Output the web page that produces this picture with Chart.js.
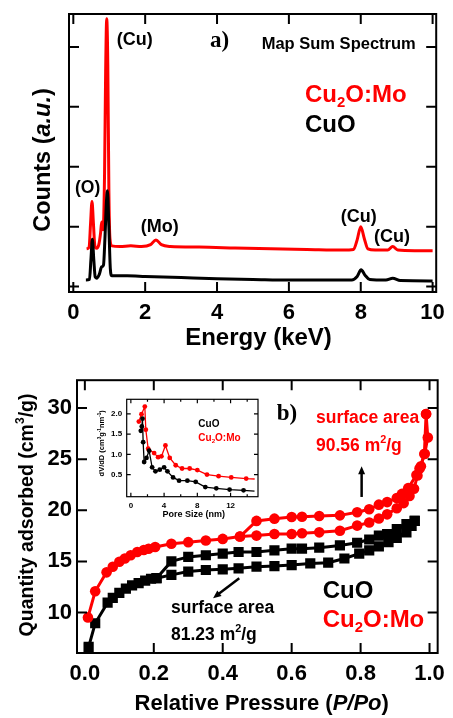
<!DOCTYPE html>
<html><head><meta charset="utf-8">
<script src="https://cdn.jsdelivr.net/npm/chart.js@4.4.1/dist/chart.umd.min.js"></script>
<style>
html,body{margin:0;padding:0;background:#fff;width:453px;height:718px;overflow:hidden;}
canvas{position:absolute;}
#ca{left:0;top:0}
#cb{left:0;top:362px}
#cc{left:92px;top:390px}
</style></head><body>
<canvas id="ca" width="453" height="362"></canvas>
<canvas id="cb" width="453" height="356"></canvas>
<canvas id="cc" width="170" height="132"></canvas>
<script>
// ---------- Panel a: EDS map sum spectrum ----------
const EDS_XTICKS = [0, 2, 4, 6, 8, 10];
const EDS_YTICKS = [0, 1, 2, 3, 4];
const EDS_CUO_KEV = [0.35,0.45,0.49,0.53,0.57,0.61,0.65,0.72,0.79,0.84,0.88,0.92,0.95,0.99,1.03,1.07,1.5,2.0,3.0,4.0,5.0,6.0,7.0,7.75,7.9,8.01,8.12,8.25,8.7,8.89,9.1,10.0];
const EDS_CUO_COUNTS = [0.11,0.12,0.45,0.79,0.45,0.16,0.14,0.20,0.33,0.36,0.80,1.40,1.60,1.00,0.30,0.18,0.18,0.17,0.15,0.13,0.12,0.11,0.11,0.11,0.17,0.28,0.19,0.12,0.11,0.14,0.10,0.095];
const EDS_CU2O_KEV = [0.37,0.44,0.48,0.52,0.56,0.60,0.65,0.71,0.76,0.79,0.83,0.87,0.90,0.93,0.96,0.99,1.02,1.07,1.3,1.6,1.9,2.15,2.30,2.45,2.7,3.5,4.5,5.5,6.5,7.5,7.8,7.9,8.0,8.1,8.2,8.4,8.75,8.89,9.03,9.5,10.0];
const EDS_CU2O_COUNTS = [0.63,0.66,1.05,1.42,1.05,0.68,0.64,0.70,0.90,1.08,0.95,1.9,3.6,4.47,3.7,1.6,0.80,0.68,0.67,0.68,0.67,0.70,0.78,0.70,0.67,0.66,0.645,0.63,0.62,0.61,0.62,0.78,1.00,0.80,0.63,0.61,0.61,0.67,0.61,0.60,0.60];

// ---------- Panel b: N2 isotherms ----------
const BET_XTICKS = [0, 0.2, 0.4, 0.6, 0.8, 1.0];
const BET_YTICKS = [10, 15, 20, 25, 30];
const CUO_ADS_P = [0.011,0.030,0.066,0.081,0.100,0.119,0.137,0.156,0.175,0.192,0.208,0.251,0.300,0.351,0.400,0.446,0.498,0.550,0.600,0.654,0.706,0.753,0.796,0.825,0.853,0.881,0.905,0.933,0.948,0.957];
const CUO_ADS_Q = [6.64,8.95,10.96,11.44,11.92,12.34,12.66,12.88,13.11,13.30,13.36,13.68,14.00,14.16,14.22,14.32,14.48,14.54,14.64,14.80,14.87,15.28,15.76,16.08,16.46,16.88,17.30,17.84,18.48,18.96];
const CUO_DES_P = [0.957,0.933,0.905,0.877,0.853,0.825,0.790,0.740,0.680,0.630,0.600,0.550,0.498,0.446,0.400,0.351,0.300,0.251,0.208];
const CUO_DES_Q = [18.96,18.64,18.16,17.68,17.52,17.14,16.82,16.56,16.34,16.24,16.24,16.08,15.92,15.92,15.76,15.60,15.44,15.00,13.36];
const CU2O_ADS_P = [0.009,0.030,0.063,0.081,0.100,0.116,0.133,0.152,0.171,0.185,0.204,0.251,0.300,0.351,0.400,0.450,0.498,0.550,0.600,0.630,0.680,0.740,0.790,0.825,0.853,0.877,0.905,0.925,0.942,0.955,0.965,0.975,0.985,0.990];
const CU2O_ADS_Q = [9.52,12.08,13.93,14.48,14.96,15.28,15.60,15.92,16.11,16.24,16.40,16.72,16.88,17.04,17.20,17.43,17.52,17.68,17.68,17.75,17.84,18.00,18.50,18.80,19.20,19.60,20.20,20.70,21.40,22.10,23.40,24.30,25.50,29.42];
const CU2O_DES_P = [0.990,0.995,0.986,0.971,0.962,0.938,0.920,0.905,0.877,0.853,0.825,0.790,0.740,0.680,0.630,0.600,0.550,0.498,0.450];
const CU2O_DES_Q = [29.42,27.12,25.52,24.08,23.44,22.16,21.60,21.20,20.80,20.55,20.10,19.80,19.50,19.44,19.37,19.34,19.18,18.96,17.43];

// ---------- Inset: pore size distribution ----------
const PORE_XTICKS = [0, 4, 8, 12];
const PORE_XMINOR = [2, 6, 10, 14];
const PORE_YTICKS = [0.5, 1.0, 1.5, 2.0];
const PORE_CUO_NM = [1.20,1.32,1.40,1.48,1.60,1.88,2.20,2.56,2.96,3.48,4.00,4.40,5.08,5.80,6.80,7.80,8.96,10.28,11.88,13.56,14.88];
const PORE_CUO_DV = [1.58,1.69,1.88,1.30,0.81,0.91,1.09,0.68,0.58,0.62,0.68,0.58,0.43,0.35,0.35,0.32,0.19,0.16,0.13,0.11,0.09];
const PORE_CU2O_NM = [0.96,1.28,1.68,1.80,2.08,2.80,3.28,3.68,4.16,4.68,5.40,6.16,7.08,8.00,9.16,10.56,12.08,13.88,14.90];
const PORE_CU2O_DV = [1.81,1.99,2.18,1.61,1.14,1.03,0.93,0.95,1.22,0.91,0.73,0.65,0.65,0.61,0.50,0.46,0.43,0.40,0.39];

// ---------- helpers ----------
const RED = '#ff0000', BLACK = '#000000';
const SANS = '"Liberation Sans", Arial, Helvetica, sans-serif';
const SERIF = '"Liberation Serif", "Times New Roman", serif';
Chart.defaults.font.family = SANS;
Chart.defaults.color = '#000';

const pts = (xs, ys) => xs.map((x, i) => ({x, y: ys[i]}));
const T = (t, o = {}) => Object.assign({t}, o);
const SUB = t => ({t, s: 0.62, dy: 0.24});
const SUP = t => ({t, s: 0.62, dy: -0.45});

function runFont(r, size, fam) {
  return `${r.i ? 'italic ' : ''}bold ${(size * (r.s || 1)).toFixed(2)}px ${fam}`;
}
function drawRuns(ctx, it) {
  const size = it.size, fam = it.family || SANS;
  ctx.save();
  ctx.translate(it.x, it.y);
  if (it.rot) ctx.rotate(it.rot);
  ctx.textBaseline = 'alphabetic';
  ctx.textAlign = 'left';
  ctx.fillStyle = it.color || BLACK;
  let w = 0;
  for (const r of it.runs) { ctx.font = runFont(r, size, fam); w += ctx.measureText(r.t).width; }
  let cx = it.align === 'center' ? -w / 2 : 0;
  for (const r of it.runs) {
    ctx.font = runFont(r, size, fam);
    ctx.fillText(r.t, cx, (r.dy || 0) * size);
    cx += ctx.measureText(r.t).width;
  }
  ctx.restore();
}
function textPlugin(items) {
  return { id: 'texts', afterDraw(chart) { items.forEach(it => drawRuns(chart.ctx, it)); } };
}
function framePlugin(o) {
  return {
    id: 'frame',
    afterDatasetsDraw(chart) {
      const {ctx, chartArea: a, scales: {x, y}} = chart;
      ctx.save();
      ctx.strokeStyle = BLACK;
      ctx.lineWidth = o.width;
      ctx.beginPath();
      const xt = (v, len) => { const p = x.getPixelForValue(v); ctx.moveTo(p, a.bottom); ctx.lineTo(p, a.bottom - len); ctx.moveTo(p, a.top); ctx.lineTo(p, a.top + len); };
      const yt = (v, len) => { const p = y.getPixelForValue(v); ctx.moveTo(a.left, p); ctx.lineTo(a.left + len, p); ctx.moveTo(a.right, p); ctx.lineTo(a.right - len, p); };
      x.ticks.forEach(t => xt(t.value, o.len));
      y.ticks.forEach(t => yt(t.value, o.len));
      (o.xMinor || []).forEach(v => xt(v, o.minorLen));
      ctx.stroke();
      ctx.strokeRect(a.left, a.top, a.right - a.left, a.bottom - a.top);
      ctx.restore();
    }
  };
}
function arrowPlugin(list) {
  return {
    id: 'arrows',
    afterDraw(chart) {
      const {ctx, scales: {x, y}} = chart;
      list.forEach(ar => {
        const x1 = x.getPixelForValue(ar.from[0]), y1 = y.getPixelForValue(ar.from[1]);
        const x2 = x.getPixelForValue(ar.to[0]), y2 = y.getPixelForValue(ar.to[1]);
        const ang = Math.atan2(y2 - y1, x2 - x1);
        const hl = 8, hw = 3.5;
        ctx.save();
        ctx.strokeStyle = BLACK; ctx.fillStyle = BLACK; ctx.lineWidth = 2.5;
        ctx.beginPath();
        ctx.moveTo(x1, y1);
        ctx.lineTo(x2 - Math.cos(ang) * hl * 0.8, y2 - Math.sin(ang) * hl * 0.8);
        ctx.stroke();
        ctx.beginPath();
        ctx.moveTo(x2, y2);
        ctx.lineTo(x2 - Math.cos(ang) * hl - Math.sin(ang) * hw, y2 - Math.sin(ang) * hl + Math.cos(ang) * hw);
        ctx.lineTo(x2 - Math.cos(ang) * hl + Math.sin(ang) * hw, y2 - Math.sin(ang) * hl - Math.cos(ang) * hw);
        ctx.closePath();
        ctx.fill();
        ctx.restore();
      });
    }
  };
}
const setTicks = arr => s => { s.ticks = arr.map(v => ({value: v})); };
const baseOpts = () => ({
  responsive: false, animation: false, events: [],
  plugins: {legend: {display: false}, tooltip: {enabled: false}}
});

// ---------- Chart a ----------
const optsA = baseOpts();
optsA.layout = {padding: {left: 0, right: 16, top: 14, bottom: 0}};
optsA.scales = {
  x: {type: 'linear', min: -0.12, max: 10.1, afterBuildTicks: setTicks(EDS_XTICKS), afterFit: s => { s.height = 70; },
      grid: {display: false, drawTicks: false}, border: {display: false},
      ticks: {padding: 8, font: {size: 22, weight: 'bold'}, color: BLACK, autoSkip: false, maxRotation: 0, callback: v => String(v)}},
  y: {type: 'linear', min: -0.09, max: 4.55, afterBuildTicks: setTicks(EDS_YTICKS), afterFit: s => { s.width = 69; },
      grid: {display: false, drawTicks: false}, border: {display: false}, ticks: {display: false}}
};
new Chart(document.getElementById('ca'), {
  type: 'line',
  data: {datasets: [
    {label: 'CuO', data: pts(EDS_CUO_KEV, EDS_CUO_COUNTS), borderColor: BLACK, borderWidth: 3, pointRadius: 0, cubicInterpolationMode: 'monotone', fill: false},
    {label: 'Cu2O:Mo', data: pts(EDS_CU2O_KEV, EDS_CU2O_COUNTS), borderColor: RED, borderWidth: 3, pointRadius: 0, cubicInterpolationMode: 'monotone', fill: false}
  ]},
  options: optsA,
  plugins: [framePlugin({width: 2, len: 10}), textPlugin([
    {runs: [T('(Cu)')], x: 116.7, y: 45, size: 18},
    {runs: [T('a)')], x: 210, y: 47, size: 23, family: SERIF},
    {runs: [T('Map Sum Spectrum')], x: 261.7, y: 49, size: 16.5},
    {runs: [T('Cu'), SUB('2'), T('O:Mo')], x: 305, y: 101.7, size: 24, color: RED},
    {runs: [T('CuO')], x: 305, y: 131.7, size: 24},
    {runs: [T('(O)')], x: 75, y: 193.3, size: 17.5},
    {runs: [T('(Mo)')], x: 140.7, y: 231.7, size: 18},
    {runs: [T('(Cu)')], x: 340.7, y: 221.7, size: 18},
    {runs: [T('(Cu)')], x: 374, y: 241.7, size: 18},
    {runs: [T('Counts ('), T('a.u.', {i: true}), T(')')], x: 49.5, y: 160, size: 23.5, align: 'center', rot: -Math.PI / 2},
    {runs: [T('Energy (keV)')], x: 258.5, y: 345, size: 24, align: 'center'}
  ])]
});

// ---------- Chart b ----------
const optsB = baseOpts();
optsB.layout = {padding: {left: 0, right: 8, top: 13, bottom: 0}};
optsB.scales = {
  x: {type: 'linear', min: -0.0228, max: 1.0236, afterBuildTicks: setTicks(BET_XTICKS), afterFit: s => { s.height = 65; },
      grid: {display: false, drawTicks: false}, border: {display: false},
      ticks: {padding: 8, font: {size: 22, weight: 'bold'}, color: BLACK, autoSkip: false, maxRotation: 0, callback: v => Number(v).toFixed(1)}},
  y: {type: 'linear', min: 6.04, max: 32.72, afterBuildTicks: setTicks(BET_YTICKS), afterFit: s => { s.width = 77; },
      grid: {display: false, drawTicks: false}, border: {display: false},
      ticks: {padding: 5, font: {size: 22, weight: 'bold'}, color: BLACK, autoSkip: false, callback: v => String(v)}}
};
const redSet = (label, d) => ({label, data: d, borderColor: RED, backgroundColor: RED, borderWidth: 3, pointRadius: 5.3, pointStyle: 'circle', pointBackgroundColor: RED, pointBorderColor: RED, pointBorderWidth: 0, fill: false, tension: 0});
const blackSet = (label, d) => ({label, data: d, borderColor: BLACK, backgroundColor: BLACK, borderWidth: 3, pointRadius: 7.2, pointStyle: 'rect', pointBackgroundColor: BLACK, pointBorderColor: BLACK, pointBorderWidth: 0, fill: false, tension: 0});
new Chart(document.getElementById('cb'), {
  type: 'line',
  data: {datasets: [
    redSet('Cu2O:Mo adsorption', pts(CU2O_ADS_P, CU2O_ADS_Q)),
    redSet('Cu2O:Mo desorption', pts(CU2O_DES_P, CU2O_DES_Q)),
    blackSet('CuO adsorption', pts(CUO_ADS_P, CUO_ADS_Q)),
    blackSet('CuO desorption', pts(CUO_DES_P, CUO_DES_Q))
  ]},
  options: optsB,
  plugins: [framePlugin({width: 2, len: 10}),
    arrowPlugin([{from: [0.803, 21.3], to: [0.803, 24.3]}, {from: [0.448, 13.36], to: [0.372, 11.4]}]),
    textPlugin([
      {runs: [T('b)')], x: 276.7, y: 58, size: 23, family: SERIF},
      {runs: [T('surface area')], x: 316, y: 61.3, size: 17.5, color: RED},
      {runs: [T('90.56 m'), SUP('2'), T('/g')], x: 316, y: 89, size: 17.5, color: RED},
      {runs: [T('CuO')], x: 322.7, y: 236.3, size: 24},
      {runs: [T('Cu'), SUB('2'), T('O:Mo')], x: 322.7, y: 264.7, size: 24, color: RED},
      {runs: [T('surface area')], x: 171, y: 250.7, size: 17.5},
      {runs: [T('81.23 m'), SUP('2'), T('/g')], x: 171, y: 278, size: 17.5},
      {runs: [T('Quantity adsorbed (cm'), SUP('3'), T('/g)')], x: 33, y: 153, size: 19.5, align: 'center', rot: -Math.PI / 2},
      {runs: [T('Relative Pressure ('), T('P/Po', {i: true}), T(')')], x: 261.7, y: 348, size: 22, align: 'center'}
    ])]
});

// ---------- Inset ----------
const optsC = baseOpts();
optsC.layout = {padding: {left: 0, right: 3.7, top: 6.7, bottom: 0}};
optsC.scales = {
  x: {type: 'linear', min: -0.5, max: 15.3, afterBuildTicks: setTicks(PORE_XTICKS), afterFit: s => { s.height = 25.3; },
      grid: {display: false, drawTicks: false}, border: {display: false},
      ticks: {padding: 4, font: {size: 8, weight: 'bold'}, color: BLACK, autoSkip: false, maxRotation: 0, callback: v => String(v)}},
  y: {type: 'linear', min: -0.047, max: 2.36, afterBuildTicks: setTicks(PORE_YTICKS), afterFit: s => { s.width = 34.7; },
      grid: {display: false, drawTicks: false}, border: {display: false},
      ticks: {padding: 4.5, font: {size: 8, weight: 'bold'}, color: BLACK, autoSkip: false, callback: v => Number(v).toFixed(1)}}
};
const lastHidden = n => ctx => (ctx.dataIndex === n - 1 ? 0 : 2.4);
new Chart(document.getElementById('cc'), {
  type: 'line',
  data: {datasets: [
    {label: 'CuO', data: pts(PORE_CUO_NM, PORE_CUO_DV), borderColor: BLACK, borderWidth: 1.3, pointRadius: lastHidden(PORE_CUO_NM.length), pointBackgroundColor: BLACK, pointBorderWidth: 0, fill: false, tension: 0},
    {label: 'Cu2O:Mo', data: pts(PORE_CU2O_NM, PORE_CU2O_DV), borderColor: RED, borderWidth: 1.3, pointRadius: lastHidden(PORE_CU2O_NM.length), pointBackgroundColor: RED, pointBorderWidth: 0, fill: false, tension: 0}
  ]},
  options: optsC,
  plugins: [framePlugin({width: 1.2, len: 4, minorLen: 2.5, xMinor: PORE_XMINOR}), textPlugin([
    {runs: [T('CuO')], x: 106.3, y: 37.3, size: 10},
    {runs: [T('Cu'), SUB('2'), T('O:Mo')], x: 106.3, y: 50.7, size: 10, color: RED},
    {runs: [T('dV/dD (cm'), SUP('3'), T('g'), SUP('-1'), T('nm'), SUP('-1'), T(')')], x: 12, y: 53.3, size: 7.5, align: 'center', rot: -Math.PI / 2},
    {runs: [T('Pore Size (nm)')], x: 101.8, y: 126.7, size: 9, align: 'center'}
  ])]
});
</script></body></html>
